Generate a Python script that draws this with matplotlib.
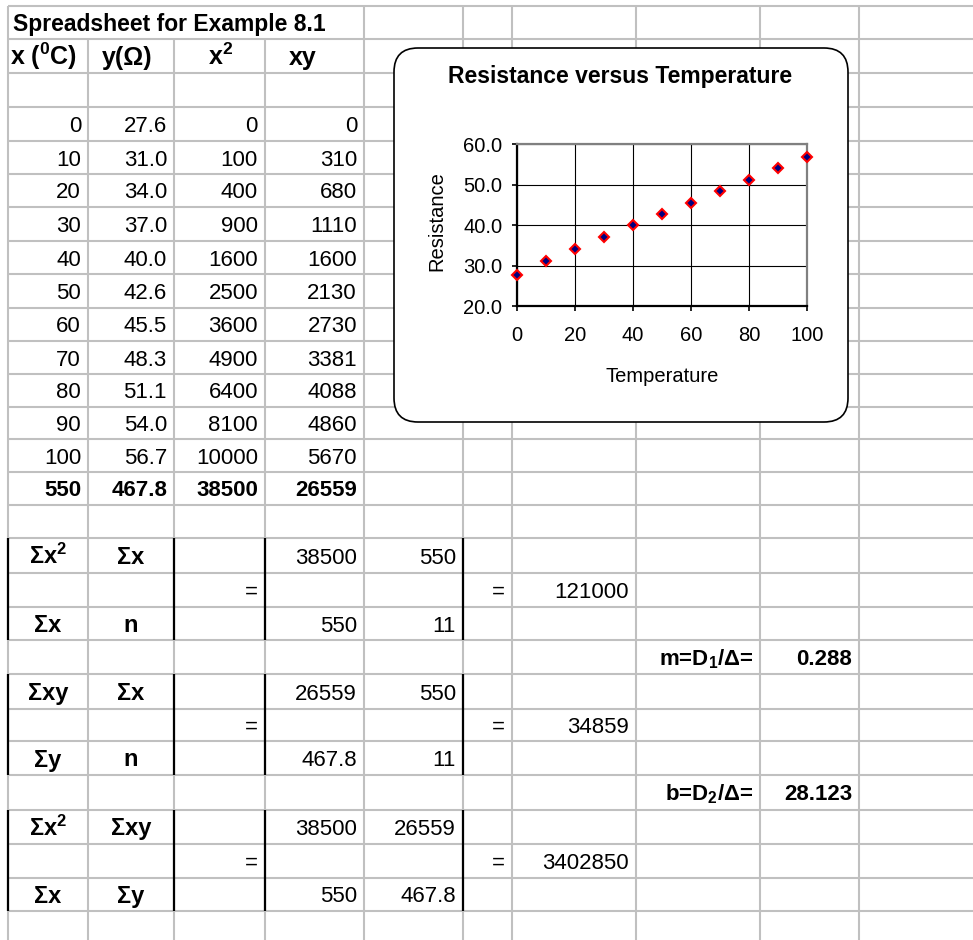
import matplotlib
matplotlib.use("Agg")
import matplotlib.pyplot as plt
from matplotlib.patches import FancyBboxPatch

# ---------------- data ----------------
sheet_title = "Spreadsheet for Example 8.1"
header_labels = [r"x ($\mathregular{^0}$C)", "y(Ω)", r"x$\mathregular{^2}$", "xy"]
temperature = [0, 10, 20, 30, 40, 50, 60, 70, 80, 90, 100]
resistance = [27.6, 31.0, 34.0, 37.0, 40.0, 42.6, 45.5, 48.3, 51.1, 54.0, 56.7]
x_squared = [0, 100, 400, 900, 1600, 2500, 3600, 4900, 6400, 8100, 10000]
xy_products = [0, 310, 680, 1110, 1600, 2130, 2730, 3381, 4088, 4860, 5670]
column_sums = ["550", "467.8", "38500", "26559"]

det_labels_top = [[r"Σx$\mathregular{^2}$", "Σx"], ["Σxy", "Σx"], [r"Σx$\mathregular{^2}$", "Σxy"]]
det_labels_bottom = [["Σx", "n"], ["Σy", "n"], ["Σx", "Σy"]]
det_values_top = [["38500", "550"], ["26559", "550"], ["38500", "26559"]]
det_values_bottom = [["550", "11"], ["467.8", "11"], ["550", "467.8"]]
det_results = ["121000", "34859", "3402850"]
coef_labels = [r"m=D$\mathregular{_1}$/Δ=", r"b=D$\mathregular{_2}$/Δ="]
coef_values = ["0.288", "28.123"]

chart_title = "Resistance versus Temperature"
x_label = "Temperature"
y_label = "Resistance"
x_ticks = [0, 20, 40, 60, 80, 100]
y_ticks = [20, 30, 40, 50, 60]

# ---------------- layout (pixels) ----------------
W, H = 973, 940
row_edges = [6, 39, 73, 107, 141, 174, 207, 241, 274, 308, 341, 374, 407, 439,
             472, 505, 538, 573, 607, 640, 674, 709, 741, 775, 810, 844, 878, 911]
col_edges = [8, 88, 174, 265, 364, 463, 512, 636, 760, 859, 973]
header_centers = [43.5, 127, 221, 303]
GRAY = "#c0c0c0"
FONT = "Liberation Sans"

plt.rcParams["font.family"] = [FONT, "DejaVu Sans"]

fig = plt.figure(figsize=(W / 100, H / 100), dpi=100)
ax0 = fig.add_axes([0, 0, 1, 1])
ax0.set_xlim(0, W)
ax0.set_ylim(H, 0)
ax0.axis("off")

# grid lines
for y in row_edges:
    ax0.plot([col_edges[0], W], [y, y], color=GRAY, lw=1.5, zorder=1, solid_capstyle="butt")
for x in col_edges[:-1]:
    y_start = row_edges[1] if x in (88, 174, 265) else row_edges[0]
    ax0.plot([x, x], [y_start, H], color=GRAY, lw=1.5, zorder=1, solid_capstyle="butt")

# black borders for determinant blocks
block_rows = [(16, 19), (20, 23), (24, 27)]
for r0, r1 in block_rows:
    for x in (8, 174, 265, 463):
        ax0.plot([x, x], [row_edges[r0], row_edges[r1]], color="black", lw=1.6, zorder=2,
                 solid_capstyle="butt")


def cell(s, row, col, align="right", bold=False, size=16, xc=None):
    y0, y1 = row_edges[row], row_edges[row + 1]
    x0, x1 = col_edges[col], col_edges[col + 1]
    yc = (y0 + y1) / 2 + 0.36 * size * 100 / 72
    if align == "right":
        x, ha = x1 - 7, "right"
    elif align == "left":
        x, ha = x0 + 5, "left"
    else:
        x, ha = ((x0 + x1) / 2 if xc is None else xc), "center"
    ax0.text(x, yc, s, ha=ha, va="baseline", fontsize=size,
             fontweight="bold" if bold else "normal", zorder=3)


# title row
cell(sheet_title, 0, 0, align="left", bold=True, size=16.5)
# headers
for i, lab in enumerate(header_labels):
    cell(lab, 1, i, align="center", bold=True, size=18, xc=header_centers[i])
# data rows
for i in range(len(temperature)):
    r = 3 + i
    cell(f"{temperature[i]}", r, 0)
    cell(f"{resistance[i]:.1f}", r, 1)
    cell(f"{x_squared[i]}", r, 2)
    cell(f"{xy_products[i]}", r, 3)
# sums
for j, s in enumerate(column_sums):
    cell(s, 14, j, bold=True)

# determinant blocks
for b, (r0, r1) in enumerate(block_rows):
    top, mid, bot = r0, r0 + 1, r0 + 2
    for j in range(2):
        cell(det_labels_top[b][j], top, j, align="center", bold=True, size=17)
        cell(det_labels_bottom[b][j], bot, j, align="center", bold=True, size=17)
        cell(det_values_top[b][j], top, 3 + j)
        cell(det_values_bottom[b][j], bot, 3 + j)
    cell("=", mid, 2)
    cell("=", mid, 5)
    cell(det_results[b], mid, 6)

for k in range(2):
    r = 19 + 4 * k
    cell(coef_labels[k], r, 7, bold=True, size=16)
    cell(coef_values[k], r, 8, bold=True, size=16)

# chart box
box = FancyBboxPatch((394, 48), 454, 374, boxstyle="round,pad=0,rounding_size=24",
                     fc="white", ec="black", lw=1.2, zorder=5)
ax0.add_patch(box)
ax0.text(620, 76, chart_title, ha="center", va="center", fontsize=16.5,
         fontweight="bold", zorder=6)

# chart axes
L, R, T, B = 517, 807, 144, 306
ax = fig.add_axes([L / W, 1 - B / H, (R - L) / W, (B - T) / H])
ax.set_facecolor("white")
ax.set_xlim(0, 100)
ax.set_ylim(20, 60)
ax.set_xticks(x_ticks)
ax.set_yticks(y_ticks)
ax.set_yticklabels([f"{v:.1f}" for v in y_ticks])
ax.grid(True, color="black", lw=0.8)
ax.set_axisbelow(True)
ax.tick_params(direction="out", length=3.6, width=1.2, colors="black", labelsize=14.5)
ax.tick_params(axis="y", pad=7)
ax.tick_params(axis="x", pad=11)
for s in ("left", "bottom"):
    ax.spines[s].set_color("black")
    ax.spines[s].set_linewidth(1.6)
for s in ("top", "right"):
    ax.spines[s].set_color("#808080")
    ax.spines[s].set_linewidth(1.6)
ax.plot(temperature, resistance, linestyle="none", marker="D", markersize=4.8,
        markerfacecolor="#000080", markeredgecolor="red", markeredgewidth=1.5,
        clip_on=False, zorder=5)
ax.set_xlabel(x_label, fontsize=14.5)
ax.xaxis.set_label_coords(0.5, -(367 - B) / (B - T))
ax.set_ylabel(y_label, fontsize=14.5)
ax.yaxis.set_label_coords((446 - L) / (R - L), 0.525)

fig.savefig("out.png", dpi=100)
